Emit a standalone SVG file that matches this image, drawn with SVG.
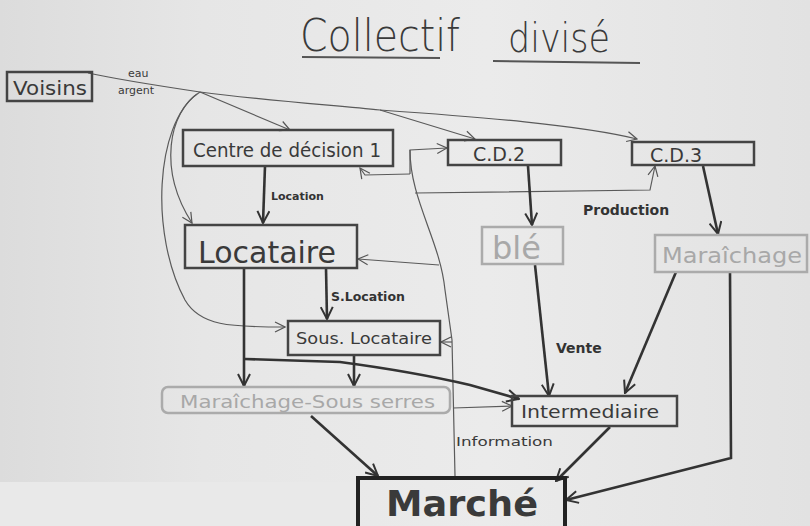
<svg xmlns="http://www.w3.org/2000/svg" width="810" height="526" viewBox="0 0 810 526">
<defs>
<linearGradient id="bg" x1="0" y1="0" x2="1" y2="0">
<stop offset="0" stop-color="#dcdcdc"/>
<stop offset="0.25" stop-color="#e6e6e6"/>
<stop offset="0.6" stop-color="#ebebeb"/>
<stop offset="1" stop-color="#e2e2e2"/>
</linearGradient>
<marker id="at" viewBox="0 0 12 12" refX="11" refY="6" markerWidth="12" markerHeight="12" markerUnits="userSpaceOnUse" orient="auto">
<path d="M1,1 L11,6 L1,11" fill="none" stroke="#555" stroke-width="1.2"/>
</marker>
<marker id="ak" viewBox="0 0 14 14" refX="13" refY="7" markerWidth="14" markerHeight="14" markerUnits="userSpaceOnUse" orient="auto">
<path d="M1,1 L13,7 L1,13" fill="none" stroke="#333" stroke-width="2"/>
</marker>
</defs>
<style>
.hand{font-family:"DejaVu Sans","Liberation Sans",sans-serif;}
.box{fill:none;stroke:#444;stroke-width:2.5;}
.gbox{fill:none;stroke:#ababab;stroke-width:2.5;}
.dt{fill:#3a3a3a;}
.gt{fill:#a8a8a8;}
.thin{fill:none;stroke:#5a5a5a;stroke-width:1.2;}
.thick{fill:none;stroke:#333;stroke-width:2.6;}
.lbl{font-family:"DejaVu Sans","Liberation Sans",sans-serif;font-weight:bold;fill:#333;}
</style>
<rect x="0" y="0" width="810" height="526" fill="url(#bg)"/>
<rect x="0" y="482" width="360" height="44" fill="#e9e9e9"/>

<g id="title">
<text class="hand dt" x="300" y="51" font-size="44" font-weight="200" textLength="160" lengthAdjust="spacingAndGlyphs">Collectif</text>
<line x1="302" y1="57" x2="440" y2="58" stroke="#555" stroke-width="2"/>
<text class="hand dt" x="508" y="52" font-size="40" font-weight="200" textLength="102" lengthAdjust="spacingAndGlyphs">divisé</text>
<line x1="493" y1="61" x2="640" y2="63" stroke="#555" stroke-width="2"/>
</g>

<g id="connectors">
<path class="thin" d="M88,73 C120,80 160,86 200,92"/>
<path class="thin" d="M200,92 L290,130" marker-end="url(#at)"/>
<path class="thin" d="M200,92 C260,100 330,105 380,110 L475,139" marker-end="url(#at)"/>
<path class="thin" d="M380,110 C480,117 580,125 637,139" marker-end="url(#at)"/>
<path class="thin" d="M200,92 C168,112 158,170 192,223" marker-end="url(#at)"/>
<path class="thin" d="M197,94 C155,125 150,235 185,300 C200,326 230,327 285,327" marker-end="url(#at)"/>

<path class="thin" d="M410,174 L365,175 L360,168" marker-end="url(#at)"/>
<path class="thin" d="M410,174 L410,150 L447,148" marker-end="url(#at)"/>
<path class="thin" d="M410,150 C410,200 440,240 445,290 L452,340 L455,476"/>
<path class="thin" d="M415,193 L650,190 L655,166" marker-end="url(#at)"/>
<path class="thin" d="M439,265 L358,259" marker-end="url(#at)"/>
<path class="thin" d="M452,342 L441,342" marker-end="url(#at)"/>
<path class="thin" d="M453,408 L512,406" marker-end="url(#at)"/>

<path class="thick" d="M265,166 L263,223" marker-end="url(#ak)"/>
<path class="thick" d="M244,268 L244,386" marker-end="url(#ak)"/>
<path class="thick" d="M245,359 L340,362 C400,370 440,378 470,385 L519,399" marker-end="url(#ak)"/>
<path class="thick" d="M326,268 L327,319" marker-end="url(#ak)"/>
<path class="thick" d="M354,355 L354,386" marker-end="url(#ak)"/>
<path class="thick" d="M528,166 L532,225" marker-end="url(#ak)"/>
<path class="thick" d="M535,265 L549,396" marker-end="url(#ak)"/>
<path class="thick" d="M703,166 L718,234" marker-end="url(#ak)"/>
<path class="thick" d="M676,272 L625,393" marker-end="url(#ak)"/>
<path class="thick" d="M730,273 L731,458 L566,500" marker-end="url(#ak)"/>
<path class="thick" d="M610,427 L556,481" marker-end="url(#ak)"/>
<path class="thick" d="M311,416 L378,476" marker-end="url(#ak)"/>

<text class="hand dt" x="128" y="77" font-size="11">eau</text>
<text class="hand dt" x="118" y="94" font-size="11">argent</text>
<text class="lbl" x="271" y="200" font-size="11">Location</text>
<text class="lbl" x="331" y="301" font-size="12.5">S.Location</text>
<text class="lbl" x="583" y="215" font-size="14">Production</text>
<text class="lbl" x="556" y="353" font-size="14">Vente</text>
<text class="hand dt" x="456" y="446" font-size="12" textLength="97" lengthAdjust="spacingAndGlyphs">Information</text>
</g>

<g id="voisins">
<rect class="box" x="7" y="72" width="85" height="29"/>
<text class="hand dt" x="13" y="95" font-size="20" textLength="74" lengthAdjust="spacingAndGlyphs">Voisins</text>
</g>

<g id="cd1">
<rect class="box" x="183" y="130" width="210" height="36"/>
<text class="hand dt" x="193" y="157" font-size="20" textLength="188" lengthAdjust="spacingAndGlyphs">Centre de décision 1</text>
</g>

<g id="locataire">
<rect class="box" x="185" y="225" width="172" height="43"/>
<text class="hand dt" x="198" y="263" font-size="30" textLength="138" lengthAdjust="spacingAndGlyphs">Locataire</text>
</g>

<g id="souslocataire">
<rect class="box" x="288" y="321" width="152" height="34"/>
<text class="hand dt" x="296" y="344" font-size="15" textLength="136" lengthAdjust="spacingAndGlyphs">Sous. Locataire</text>
</g>

<g id="maraichage-sous-serres">
<rect class="gbox" x="162" y="387" width="288" height="26" rx="6"/>
<text class="hand gt" x="180" y="408" font-size="18" textLength="255" lengthAdjust="spacingAndGlyphs">Maraîchage-Sous serres</text>
</g>

<g id="cd2">
<rect class="box" x="448" y="140" width="113" height="25"/>
<text class="hand dt" x="473" y="161" font-size="19">C.D.2</text>
</g>

<g id="cd3">
<rect class="box" x="632" y="142" width="122" height="23"/>
<text class="hand dt" x="650" y="162" font-size="19">C.D.3</text>
</g>

<g id="ble">
<rect class="gbox" x="482" y="227" width="81" height="37"/>
<text class="hand gt" x="492" y="259" font-size="32">blé</text>
</g>

<g id="maraichage">
<rect class="gbox" x="655" y="235" width="152" height="37"/>
<text class="hand gt" x="662" y="263" font-size="22" textLength="140" lengthAdjust="spacingAndGlyphs">Maraîchage</text>
</g>

<g id="intermediaire">
<rect class="box" x="512" y="396" width="165" height="30"/>
<text class="hand dt" x="521" y="418" font-size="18" textLength="138" lengthAdjust="spacingAndGlyphs">Intermediaire</text>
</g>

<g id="marche">
<rect x="358" y="478" width="207" height="52" fill="none" stroke="#222" stroke-width="4"/>
<text class="hand dt" x="386" y="516" font-size="36" font-weight="bold" textLength="152" lengthAdjust="spacingAndGlyphs">Marché</text>
</g>
</svg>
